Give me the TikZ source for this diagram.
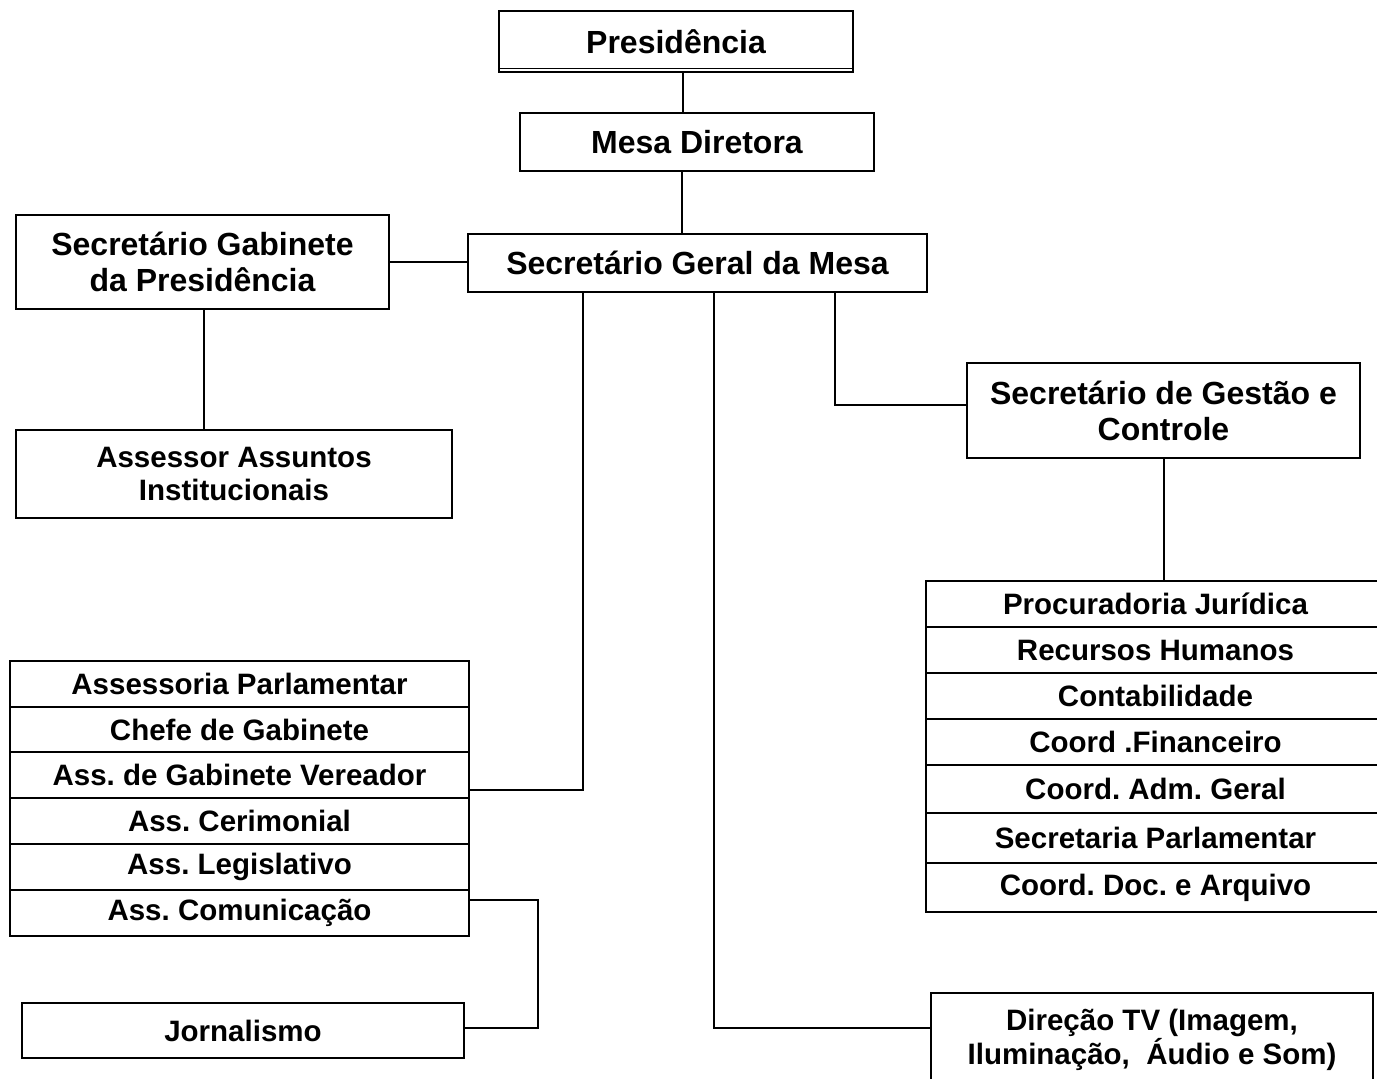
\documentclass[tikz,border=0pt]{standalone}
\usepackage{fontspec}
\setmainfont{Liberation Sans}
\frenchspacing
\newcommand{\bigf}{\fontsize{32}{36}\selectfont\bfseries}
\newcommand{\smf}{\fontsize{29.5}{33.5}\selectfont\bfseries}
\begin{document}
\begin{tikzpicture}[x=1pt,y=-1pt,
  box/.style={draw, line width=1.4pt, inner sep=0pt, align=center, font=\bigf},
  sbox/.style={draw, line width=1.4pt, inner sep=0pt, align=center, font=\smf},
  conn/.style={line width=1.4pt}]
\useasboundingbox[fill=white] (0,0) rectangle (1377,1079);
% top
\node[box, minimum width=354pt, minimum height=61pt] (pres) at (676,41.5) {Presidência};
\draw[conn] ([yshift=4.5pt]pres.south west) -- ([yshift=4.5pt]pres.south east);
\node[box, minimum width=354pt, minimum height=58pt] (mesa) at (697,142) {Mesa Diretora};
\node[box, minimum width=459pt, minimum height=58pt] (sgm) at (697.5,263) {Secretário Geral da Mesa};
\node[box, minimum width=373pt, minimum height=94pt] (sgp) at (202.5,262) {Secretário Gabinete\\da Presidência};
\node[sbox, minimum width=436pt, minimum height=88pt] (aai) at (234,474) {Assessor Assuntos\\Institucionais};
\node[box, minimum width=393pt, minimum height=95pt] (sgc) at (1163.5,410.5) {Secretário de Gestão e\\Controle};
% left stack
\node[sbox, minimum width=459pt, minimum height=46pt] (l1) at (239.5,684) {Assessoria Parlamentar};
\node[sbox, minimum width=459pt, minimum height=45pt] (l2) at (239.5,729.5) {Chefe de Gabinete};
\node[sbox, minimum width=459pt, minimum height=46pt] (l3) at (239.5,775) {Ass. de Gabinete Vereador};
\node[sbox, minimum width=459pt, minimum height=46pt] (l4) at (239.5,821) {Ass. Cerimonial};
\node[sbox, minimum width=459pt, minimum height=46pt] (l5) at (239.5,867) {Ass. Legislativo};
\node[sbox, minimum width=459pt, minimum height=46pt] (l6) at (239.5,913) {Ass. Comunicação};
\node[sbox, minimum width=442pt, minimum height=55pt] (jorn) at (243,1030.5) {Jornalismo};
% right stack
\node[sbox, minimum width=459pt, minimum height=46pt] (r1) at (1155.5,604) {Procuradoria Jurídica};
\node[sbox, minimum width=459pt, minimum height=46pt] (r2) at (1155.5,650) {Recursos Humanos};
\node[sbox, minimum width=459pt, minimum height=46pt] (r3) at (1155.5,696) {Contabilidade};
\node[sbox, minimum width=459pt, minimum height=46pt] (r4) at (1155.5,742) {Coord .Financeiro};
\node[sbox, minimum width=459pt, minimum height=48pt] (r5) at (1155.5,789) {Coord. Adm. Geral};
\node[sbox, minimum width=459pt, minimum height=50pt] (r6) at (1155.5,838) {Secretaria Parlamentar};
\node[sbox, minimum width=459pt, minimum height=49pt] (r7) at (1155.5,887.5) {Coord. Doc. e Arquivo};
\node[sbox, minimum width=442pt, minimum height=94pt] (tv) at (1152,1040) {Direção TV (Imagem,\\Iluminação,\ \ Áudio e Som)};
% connector coordinates
\coordinate (c1) at (683,0);
\coordinate (c2) at (682,0);
\coordinate (c3) at (204,0);
\coordinate (ka) at (583,790);
\coordinate (kb) at (714,1028);
\coordinate (kc) at (835,405);
\coordinate (kd) at (1164,0);
\coordinate (ke) at (538,900);
\coordinate (kf) at (538,1028);
% connectors
\draw[conn] (pres.south -| c1) -- (mesa.north -| c1);
\draw[conn] (mesa.south -| c2) -- (sgm.north -| c2);
\draw[conn] (sgp.east) -- (sgp.east -| sgm.west);
\draw[conn] (sgp.south -| c3) -- (aai.north -| c3);
\draw[conn] (sgm.south -| ka) -- (ka) -- (ka -| l3.east);
\draw[conn] (sgm.south -| kb) -- (kb) -- (kb -| tv.west);
\draw[conn] (sgm.south -| kc) -- (kc) -- (kc -| sgc.west);
\draw[conn] (sgc.south -| kd) -- (r1.north -| kd);
\draw[conn] (ke -| l6.east) -- (ke) -- (kf) -- (kf -| jorn.east);
\end{tikzpicture}
\end{document}
